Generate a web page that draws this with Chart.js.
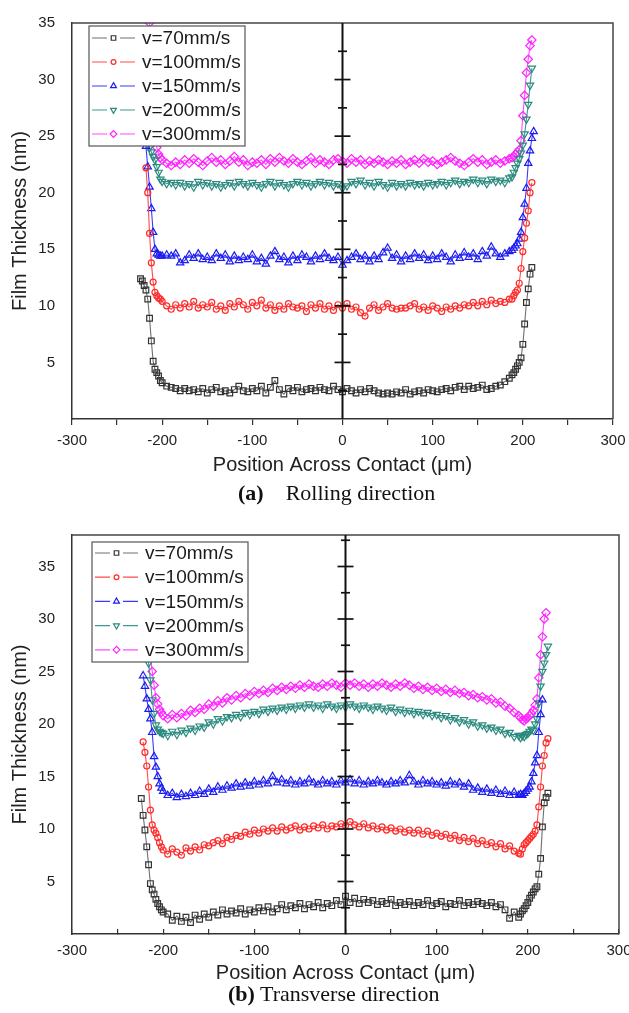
<!DOCTYPE html>
<html>
<head>
<meta charset="utf-8">
<script src="https://cdn.jsdelivr.net/npm/chart.js@4/dist/chart.umd.min.js"></script>
<style>
  body { margin: 0; background: #fff; }
  #page { position: relative; width: 629px; height: 1013px; overflow: hidden; }
  canvas { position: absolute; left: 0; }
  .cap { position: absolute; font-family: "Liberation Serif", "Times New Roman", serif; font-size: 22px; line-height: 26px; color: #111; white-space: nowrap; }
</style>
</head>
<body>
<div id="page">
  <canvas id="rolling" width="629" height="480" style="top:0"></canvas>
  <canvas id="transverse" width="629" height="485" style="top:500px"></canvas>
  <div class="cap" style="left:238px; top:480px"><b>(a)</b><span style="margin-left:22px">Rolling direction</span></div>
  <div class="cap" style="left:228px; top:981px"><b>(b)</b> Transverse direction</div>
</div>
<script>
const speedLabels = ['v=70mm/s', 'v=100mm/s', 'v=150mm/s', 'v=200mm/s', 'v=300mm/s'];

// (a) rolling direction
const posA = [
  -224, -222, -220, -218, -216, -214, -212, -210, -208, -206, -204, -202,
  -200, -195, -190, -185, -180, -175, -170, -165, -160, -155,
  -150, -145, -140, -135, -130, -125, -120, -115, -110, -105,
  -100, -95, -90, -85, -80, -75, -70, -65, -60, -55,
  -50, -45, -40, -35, -30, -25, -20, -15, -10, -5,
  0, 5, 10, 15, 20, 25, 30, 35, 40, 45,
  50, 55, 60, 65, 70, 75, 80, 85, 90, 95,
  100, 105, 110, 115, 120, 125, 130, 135, 140, 145,
  150, 155, 160, 165, 170, 175, 180, 185,
  188, 190, 192, 194, 196, 198, 200, 202, 204, 206, 208, 210, 212
];
const rollV70 = [
  12.4, 12.2, 11.8, 11.4, 10.6, 8.9, 6.9, 5.1, 4.4, 4.1, 3.8, 3.4,
  3.2, 2.9, 2.8, 2.7, 2.5, 2.7, 2.5, 2.6, 2.4, 2.7,
  2.3, 2.6, 2.8, 2.4, 2.5, 2.3, 2.6, 2.9, 2.5, 2.4,
  2.7, 2.5, 2.9, 2.3, 2.8, 3.4, 2.6, 2.2, 2.7, 2.5,
  2.8, 2.4, 2.6, 2.7, 2.5, 2.8, 2.6, 2.5, 2.9, 2.6,
  2.4, 2.7, 2.5, 2.3, 2.6, 2.4, 2.7, 2.5, 2.3, 2.2,
  2.3, 2.2, 2.4, 2.3, 2.6, 2.2, 2.4, 2.5, 2.3, 2.6,
  2.5, 2.4, 2.6, 2.7, 2.5, 2.8, 2.9, 2.6, 2.9, 2.7,
  2.8, 3.0, 2.6, 2.7, 2.9, 3.0, 3.3, 3.6,
  3.9, 4.1, 4.4, 4.7, 5.0, 5.4, 6.6, 8.4, 10.3, 11.5, 12.8, 13.4, null
];
const rollV100 = [
  null, null, null, 22.2, 20.0, 16.4, 13.8, 12.1, 11.2, 10.9, 10.7, 10.6,
  10.4, 10.0, 9.7, 10.1, 9.8, 10.2, 9.9, 10.4, 9.8, 10.1,
  9.9, 10.3, 9.7, 10.0, 9.6, 10.2, 9.9, 10.4, 10.1, 9.7,
  10.3, 10.0, 10.5, 9.8, 10.1, 9.6, 10.0, 9.7, 10.2, 9.9,
  9.8, 10.0, 9.5, 10.1, 9.8, 10.2, 9.7, 10.0, 9.6, 10.1,
  9.8, 10.2, 9.7, 9.9, 9.4, 9.1, 9.8, 10.1, 9.6, 9.9,
  10.2, 9.8, 9.7, 9.8, 9.8, 10.0, 10.2, 9.7, 9.9, 9.6,
  10.0, 9.8, 9.5, 9.9, 9.7, 10.0, 9.8, 10.1, 10.0, 10.3,
  10.0, 10.4, 10.1, 10.5, 10.2, 10.4, 10.3, 10.6,
  10.6, 10.9, 11.2, 11.4, 12.0, 13.3, 14.8, 16.0, 17.3, 18.4, 20.0, 20.9, null
];
const rollV150 = [
  null, null, 25.6, 24.1, 22.3, 20.5, 18.6, 16.5, 15.0, 14.6, 14.5, 14.4,
  14.4, 14.5, 14.4, 14.6, 13.8, 14.0, 14.5, 14.2, 14.6, 14.1,
  14.3, 14.0, 14.6, 14.2, 14.5, 13.9, 14.4, 14.0, 14.3, 14.1,
  14.5, 13.9, 14.2, 13.7, 14.4, 14.8, 14.1, 14.3, 13.8, 14.4,
  14.0, 14.5, 14.3, 13.9, 14.4, 14.1, 14.6, 14.2, 14.0, 14.3,
  13.6, 14.0, 14.3, 14.6, 14.1, 14.4, 13.9, 14.4, 14.1, 14.7,
  15.1, 14.2, 14.5, 13.9, 14.4, 14.1, 14.6, 14.2, 14.5, 14.0,
  14.4, 14.1, 14.6, 14.3, 13.9, 14.5, 14.2, 14.7, 14.3, 14.6,
  14.1, 14.8, 14.4, 15.2, 14.6, 14.3, 14.6, 14.8,
  14.9, 15.1, 15.3, 15.5, 15.9, 16.5, 17.8, 19.0, 20.4, 22.6, 23.7, 24.8, 25.4
];
const rollV200 = [
  null, null, null, 29.0, 26.5, 24.0, 23.6, 23.2, 22.9, 22.3, 21.8, 21.2,
  21.0, 20.8, 20.9, 20.7, 20.9, 20.6, 20.8, 20.5, 21.0, 20.7,
  20.9, 20.6, 20.8, 20.5, 20.7, 20.9, 20.6, 21.0, 20.8, 20.6,
  20.9, 20.7, 20.5, 20.8, 21.0, 20.6, 20.9, 20.7, 20.5, 20.8,
  21.0, 20.7, 20.9, 20.6, 20.8, 21.0, 20.7, 20.9, 20.6, 20.8,
  20.4, 20.6, 21.0, 20.8, 21.1, 20.7, 20.9, 20.6, 21.0, 20.7,
  20.5, 20.9, 20.6, 20.8, 20.6, 20.9, 20.7, 20.8, 20.6, 20.9,
  20.7, 20.8, 21.0, 20.7, 20.9, 21.1, 20.8, 21.0, 20.9, 21.2,
  20.9, 21.1, 20.8, 21.2, 21.0, 21.1, 20.9, 21.3,
  21.4, 21.8, 22.2, 22.6, 23.0, 23.5, 24.2, 25.2, 26.5, 27.8, 29.5, 31.0, null
];
const rollV300 = [
  null, null, null, null, null, 35.0, 31.0, 27.5, 25.2, 24.0, 23.4, 23.1,
  22.9, 22.6, 22.4, 22.7, 22.5, 22.9, 22.6, 23.0, 22.7, 22.4,
  22.8, 23.1, 22.7, 22.9, 22.5, 22.8, 23.2, 22.7, 22.9, 22.4,
  22.7, 22.6, 22.9, 22.5, 23.0, 22.7, 23.1, 22.8, 22.6, 23.0,
  22.7, 22.5, 22.8, 23.1, 22.6, 22.9, 22.7, 22.5, 22.9, 23.0,
  22.8, 22.6, 23.0, 22.7, 22.9, 22.5, 22.8, 22.6, 22.9, 22.7,
  22.5, 22.8, 22.6, 22.9, 22.5, 22.7, 22.9, 22.6, 23.0, 22.7,
  22.8, 22.5, 22.7, 22.9, 23.1, 22.8, 22.6, 22.4, 22.7, 23.0,
  22.7, 22.9, 22.5, 22.7, 22.9, 22.6, 22.8, 23.0,
  23.1, 23.2, 23.4, 23.6, 23.8, 24.6, 26.8, 28.6, 30.6, 31.8, 33.0, 33.5, null
];

// (b) transverse direction
const posB = [
  -224, -222, -220, -218, -216, -214, -212, -210, -208, -206, -204, -202,
  -200, -195, -190, -185, -180, -175, -170, -165, -160, -155,
  -150, -145, -140, -135, -130, -125, -120, -115, -110, -105,
  -100, -95, -90, -85, -80, -75, -70, -65, -60, -55,
  -50, -45, -40, -35, -30, -25, -20, -15, -10, -5,
  0, 5, 10, 15, 20, 25, 30, 35, 40, 45,
  50, 55, 60, 65, 70, 75, 80, 85, 90, 95,
  100, 105, 110, 115, 120, 125, 130, 135, 140, 145,
  150, 155, 160, 165, 170, 175, 180, 185, 190,
  192, 194, 196, 198, 200, 202, 204, 206, 208, 210, 212, 214, 216, 218, 220, 222
];
const transV70 = [
  12.9, 11.3, 9.9, 8.3, 6.6, 4.8, 4.2, 3.8, 3.3, 2.9, 2.6, 2.3,
  2.1, 1.9, 1.3, 1.7, 1.2, 1.6, 1.1, 1.8, 1.4, 1.9,
  1.6, 2.1, 1.8, 2.3, 1.9, 2.2, 2.0, 2.4, 1.9, 2.3,
  2.1, 2.5, 2.2, 2.6, 2.1, 2.4, 2.8, 2.3, 2.7, 2.5,
  2.9, 2.4, 2.8, 2.6, 3.0, 2.5, 2.9, 2.7, 3.2, 2.8,
  3.6, 3.0, 3.4, 2.9, 3.3, 3.0, 3.2, 2.8, 3.1, 2.9,
  3.3, 2.7, 3.0, 2.8, 3.1, 2.7, 3.0, 2.8, 3.2, 2.7,
  2.9, 3.1, 2.6, 2.9, 2.8, 3.2, 2.7, 3.0, 2.8, 3.1,
  2.9, 2.7, 3.0, 2.6, 2.8, 2.3, 1.5, 2.1, 1.6,
  1.9, 2.2, 2.4, 2.7, 3.0, 3.4, 3.7, 4.0, 4.3, 4.5, 5.7, 7.2, 10.2, 12.5, 13.0, 13.4
];
const transV100 = [
  null, 18.3, 17.3, 16.0, 14.0, 11.8, 10.4, 9.9, 9.6, 9.2, 8.7, 8.3,
  8.0, 7.6, 8.1, 7.8, 7.5, 8.2, 7.9, 8.3, 8.0, 8.5,
  8.4, 8.7, 8.9, 8.6, 9.2, 9.0, 9.4, 9.3, 9.7, 9.5,
  9.9, 9.6, 10.0, 9.8, 10.1, 9.8, 10.2, 9.9, 10.1, 10.3,
  9.9, 10.2, 10.0, 10.3, 10.1, 10.4, 10.0, 10.3, 10.2, 10.5,
  10.3, 10.7, 10.4, 10.2, 10.5, 10.1, 10.3, 10.0, 10.2, 9.9,
  10.1, 9.8, 10.0, 9.7, 9.9, 9.6, 9.9, 9.5, 9.8, 9.4,
  9.6, 9.3, 9.5, 9.1, 9.4, 8.9, 9.2, 8.8, 9.1, 8.6,
  8.9, 8.5, 8.7, 8.3, 8.6, 8.1, 8.4, 7.9, 7.7,
  7.6, 8.1, 8.5, 8.7, 8.9, 9.1, 9.3, 9.5, 9.8, 10.4, 12.1, 14.0, 16.0, 17.0, 18.2, 18.6
];
const transV150 = [
  null, 24.6, 23.6, 22.4, 21.4, 20.5, 19.2, 16.9, 15.9, 15.0, 14.3, 13.9,
  13.6, 13.2, 13.4, 13.0, 13.3, 13.1, 13.4, 13.2, 13.6, 13.3,
  13.8, 13.5, 14.0, 13.7, 14.1, 13.9, 14.3, 14.0, 14.4, 14.1,
  14.5, 14.2, 14.6, 14.3, 15.0, 14.4, 14.7, 14.3, 14.6, 14.2,
  14.5, 14.3, 14.7, 14.4, 14.2, 14.6, 14.3, 14.5, 14.2, 14.6,
  14.4, 14.7, 14.3, 14.6, 14.2, 14.5, 14.3, 14.6, 14.4, 14.2,
  14.5, 14.3, 14.6, 14.4, 15.1, 14.5, 14.2, 14.6, 14.3, 14.5,
  14.2, 14.4, 14.1, 14.5, 14.2, 14.4, 14.0, 14.3, 13.7, 13.9,
  13.5, 13.8, 13.4, 13.7, 13.3, 13.6, 13.2, 13.5, 13.2,
  13.3, 13.2, 13.4, 13.6, 13.8, 14.0, 14.5, 15.3, 16.3, 17.0, 19.2, 20.9, 22.3, null, null, null
];
const transV200 = [
  null, null, null, 27.5, 25.8, 24.2, 22.3, 21.0, 19.9, 19.5, 19.3, 19.2,
  19.1, 18.9, 19.3, 19.0, 19.4, 19.2, 19.6, 19.4, 19.8, 19.7,
  20.2, 20.0, 20.5, 20.3, 20.7, 20.6, 20.9, 20.7, 21.1, 20.9,
  21.2, 21.0, 21.4, 21.2, 21.5, 21.3, 21.6, 21.4, 21.7, 21.5,
  21.8, 21.6, 21.9, 21.6, 21.8, 21.5, 21.9, 21.7, 21.5, 21.8,
  21.6, 21.9, 21.7, 21.5, 21.8, 21.6, 21.4, 21.7, 21.5, 21.3,
  21.6, 21.2, 21.4, 21.1, 21.3, 21.0, 21.2, 20.9, 21.1, 20.8,
  20.9, 20.6, 20.8, 20.4, 20.6, 20.2, 20.4, 20.0, 20.2, 19.8,
  19.9, 19.6, 19.7, 19.4, 19.5, 19.1, 19.2, 18.8, 18.9,
  18.7, 18.9, 18.8, 19.0, 19.1, 19.3, 19.5, 19.4, 20.0, 20.5, 22.0, 23.6, 25.0, 25.8, 26.6, 27.4
];
const transV300 = [
  null, null, null, 29.2, 28.0, 26.5, 25.0, 23.7, 22.5, 21.9, 21.4, 21.1,
  20.8, 20.5, 20.9, 20.6, 21.0, 20.8, 21.3, 21.1, 21.5, 21.4,
  21.9, 21.7, 22.2, 22.0, 22.5, 22.3, 22.7, 22.5, 22.9, 22.7,
  23.1, 22.9, 23.2, 23.0, 23.4, 23.2, 23.5, 23.3, 23.6, 23.4,
  23.7, 23.5, 23.8, 23.6, 23.5, 23.8, 23.6, 23.9, 23.7, 23.5,
  23.9, 23.7, 23.9, 23.6, 23.8, 23.5, 23.8, 23.6, 23.9, 23.7,
  23.5, 23.8, 23.6, 23.9, 23.7, 23.4, 23.6, 23.3, 23.5, 23.2,
  23.4, 23.1, 23.3, 23.0, 23.2, 22.9, 23.0, 22.7, 22.8, 22.5,
  22.6, 22.3, 22.4, 22.0, 22.1, 21.7, 21.5, 21.1, 20.8,
  20.6, 20.4, 20.3, 20.5, 20.6, 20.8, 21.0, 21.3, 21.8, 22.4, 24.4, 26.6, 28.3, 30.0, 30.6, null
];

const lineStyles = [
  { borderColor: '#707070', pointBorderColor: '#333333', pointStyle: 'rect', pointRadius: 4 },
  { borderColor: '#ff4a4a', pointBorderColor: '#ff2a2a', pointStyle: 'circle', pointRadius: 3 },
  { borderColor: '#3a3aff', pointBorderColor: '#1c1cf0', pointStyle: 'triangle', pointRadius: 4.2 },
  { borderColor: '#3c9a8f', pointBorderColor: '#2b8a7e', pointStyle: 'triangle', pointRotation: 180, pointRadius: 4.2 },
  { borderColor: '#ff4cff', pointBorderColor: '#ff22ff', pointStyle: 'rectRot', pointRadius: 4.2 }
];

Chart.defaults.font.family = '"Liberation Sans", Arial, sans-serif';
Chart.defaults.color = '#222';

// box on top/right and the centre axis with crossing ticks
const frameAndAxis = {
  id: 'frameAndAxis',
  afterDatasetsDraw(chart) {
    const { ctx, chartArea: a, scales: { x, y } } = chart;
    ctx.save();
    ctx.strokeStyle = '#444';
    ctx.lineWidth = 1.5;
    ctx.beginPath();
    ctx.moveTo(a.left, a.top);
    ctx.lineTo(a.right, a.top);
    ctx.lineTo(a.right, a.bottom);
    ctx.stroke();
    const x0 = x.getPixelForValue(0);
    ctx.strokeStyle = '#111';
    ctx.lineWidth = 2;
    ctx.beginPath();
    ctx.moveTo(x0, a.top);
    ctx.lineTo(x0, a.bottom);
    ctx.stroke();
    ctx.lineWidth = 1.7;
    y.ticks.forEach(t => {
      if (t.value <= 0 || t.value >= y.max) return;
      const py = y.getPixelForValue(t.value);
      const half = t.value % 5 === 0 ? 8 : 4.5;
      ctx.beginPath();
      ctx.moveTo(x0 - half, py);
      ctx.lineTo(x0 + half, py);
      ctx.stroke();
    });
    ctx.restore();
  }
};

// legend box inside the plot: line - marker - line, then the label
const boxLegend = {
  id: 'boxLegend',
  afterDraw(chart, args, opts) {
    const { ctx, chartArea: a } = chart;
    const bx = a.left + opts.dx, by = a.top + opts.dy;
    ctx.save();
    ctx.fillStyle = '#fff';
    ctx.fillRect(bx, by, opts.w, opts.h);
    ctx.strokeStyle = '#555';
    ctx.lineWidth = 1.2;
    ctx.strokeRect(bx, by, opts.w, opts.h);
    ctx.font = '19px "Liberation Sans", Arial, sans-serif';
    ctx.textBaseline = 'middle';
    chart.data.datasets.forEach((ds, i) => {
      const yy = by + opts.first + i * opts.row;
      ctx.strokeStyle = ds.borderColor;
      ctx.lineWidth = 1.2;
      ctx.beginPath();
      ctx.moveTo(bx + 3, yy); ctx.lineTo(bx + 18, yy);
      ctx.moveTo(bx + 31, yy); ctx.lineTo(bx + 46, yy);
      ctx.stroke();
      ctx.strokeStyle = ds.pointBorderColor;
      ctx.fillStyle = 'rgba(0,0,0,0)';
      Chart.helpers.drawPoint(ctx, {
        pointStyle: ds.pointStyle, rotation: ds.pointRotation || 0,
        radius: ds.pointRadius * 0.8, borderWidth: 1.1
      }, bx + 24.5, yy);
      ctx.fillStyle = '#1a1a1a';
      ctx.fillText(ds.label, bx + 53, yy + 1);
    });
    ctx.restore();
  }
};

function drawPanel(id, positions, series, cfg) {
  return new Chart(document.getElementById(id), {
    type: 'line',
    data: {
      datasets: series.map((vals, i) => Object.assign({
        label: speedLabels[i],
        data: positions.map((x, j) => ({ x: x, y: vals[j] })).filter(p => p.y !== null),
        borderWidth: 1.1,
        pointBorderWidth: 1.2,
        pointBackgroundColor: 'rgba(0,0,0,0)',
        tension: 0
      }, lineStyles[i]))
    },
    options: {
      responsive: false,
      animation: false,
      devicePixelRatio: 1,
      layout: { padding: { top: cfg.top, right: cfg.right, left: 0, bottom: 0 } },
      plugins: {
        legend: { display: false },
        tooltip: { enabled: false },
        boxLegend: cfg.legend
      },
      scales: {
        x: {
          type: 'linear', min: -300, max: 300,
          afterFit: s => { s.height = cfg.xHeight; s.paddingLeft = 0; s.paddingRight = 0; },
          ticks: {
            stepSize: 50, autoSkip: false, maxRotation: 0, padding: cfg.xPad,
            color: '#222', font: { size: 15 },
            callback: v => v % 100 === 0 ? v : ''
          },
          grid: { drawOnChartArea: false, drawTicks: true, tickLength: cfg.xTick, color: '#333', lineWidth: 1.2 },
          border: { color: '#333', width: 1.5 },
          title: {
            display: true, text: 'Position Across Contact (μm)', color: '#222',
            font: { size: 20 }, padding: { top: 0, bottom: cfg.xTitlePad }
          }
        },
        y: {
          min: 0, max: cfg.yMax,
          afterFit: s => { s.width = 72; s.paddingTop = 0; s.paddingBottom = 0; },
          ticks: {
            stepSize: 2.5, includeBounds: false, autoSkip: false, padding: 9,
            color: '#222', font: { size: 15 },
            callback: v => (v > 0 && v % 5 === 0) ? v : ''
          },
          grid: { display: false },
          border: { display: true, color: '#333', width: 1.5 },
          title: {
            display: true, text: 'Film Thickness (nm)', color: '#222',
            font: { size: 20 }, padding: { top: 8, bottom: 0 }
          }
        }
      }
    },
    plugins: [frameAndAxis, boxLegend]
  });
}

drawPanel('rolling', posA, [rollV70, rollV100, rollV150, rollV200, rollV300], {
  top: 23, right: 16, yMax: 35, xHeight: 61, xTick: 6, xPad: 7, xTitlePad: 3,
  legend: { dx: 17, dy: 3, w: 156, h: 120, first: 12, row: 24 }
});
drawPanel('transverse', posB, [transV70, transV100, transV150, transV200, transV300], {
  top: 35, right: 10, yMax: 38, xHeight: 51, xTick: -5, xPad: 13, xTitlePad: 0,
  legend: { dx: 20, dy: 7, w: 156, h: 120, first: 11, row: 24.2 }
});
</script>
</body>
</html>
